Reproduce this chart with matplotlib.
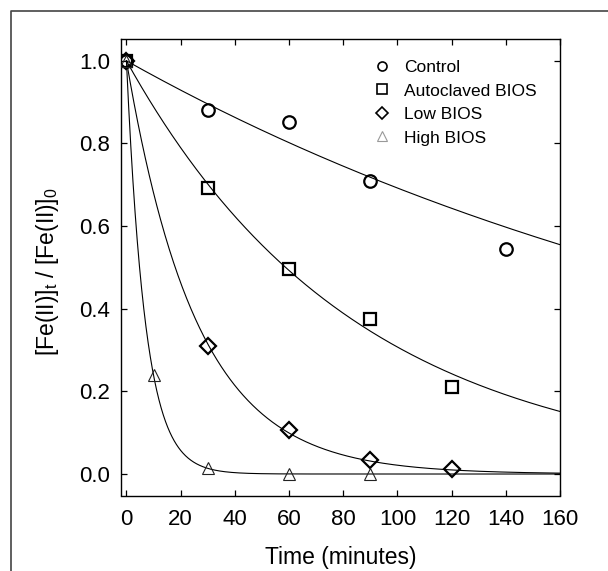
import numpy as np
import matplotlib
matplotlib.use("Agg")
import matplotlib.pyplot as plt
from matplotlib.lines import Line2D

plt.rcParams['font.family'] = ['Liberation Sans', 'DejaVu Sans']
plt.rcParams['mathtext.fontset'] = 'custom'
plt.rcParams['mathtext.rm'] = 'Liberation Sans'
plt.rcParams['mathtext.it'] = 'Liberation Sans'

# ---- data ----
series_names = ["Control", "Autoclaved BIOS", "Low BIOS", "High BIOS"]
control_t = [0, 30, 60, 90, 140]
control_y = [1.0, 0.88, 0.852, 0.71, 0.545]
autoclaved_t = [0, 30, 60, 90, 120]
autoclaved_y = [1.0, 0.693, 0.495, 0.375, 0.21]
low_t = [0, 30, 60, 90, 120]
low_y = [1.0, 0.31, 0.107, 0.033, 0.013]
high_t = [0, 10, 30, 60, 90]
high_y = [1.0, 0.24, 0.015, 0.0, 0.0]
# first-order fit rate constants (1/min)
rate_constants = [0.00368, 0.0118, 0.0385, 0.143]
x_ticks = [0, 20, 40, 60, 80, 100, 120, 140, 160]
y_ticks = [0.0, 0.2, 0.4, 0.6, 0.8, 1.0]

W, H, DPI = 608, 571, 100
fig = plt.figure(figsize=(W / DPI, H / DPI), dpi=DPI)
ax = fig.add_axes([121 / W, 1 - 495.5 / H, (560 - 121) / W, (495.5 - 39.3) / H])

# outer frame (extends past right/bottom edges)
fig.add_artist(Line2D([10.5 / W, 10.5 / W, 1.2], [-0.2, 1 - 11 / H, 1 - 11 / H],
                      transform=fig.transFigure, color='#444444', lw=1.2))

t_fit = np.linspace(0, 160, 800)
for k in rate_constants:
    ax.plot(t_fit, np.exp(-k * t_fit), color='black', lw=0.8, zorder=2)

ax.plot(control_t, control_y, 'o', ms=9, mfc='none', mec='black', mew=1.6, zorder=3)
ax.plot(autoclaved_t, autoclaved_y, 's', ms=8.5, mfc='none', mec='black', mew=1.6, zorder=3)
ax.plot(low_t, low_y, 'D', ms=8.5, mfc='none', mec='black', mew=1.6, zorder=3)
ax.plot(high_t, high_y, '^', ms=9, mfc='none', mec='#222222', mew=0.8, zorder=3)

ax.set_xlim(-2, 160)
ax.set_ylim(-0.052, 1.052)
ax.set_xticks(x_ticks)
ax.set_yticks(y_ticks)
ax.set_yticklabels([f"{v:.1f}" for v in y_ticks])
ax.tick_params(direction='in', length=4, width=0.9, labelsize=16, top=True, right=True)
ax.tick_params(axis='x', pad=10)
ax.tick_params(axis='y', pad=8)
for s in ax.spines.values():
    s.set_linewidth(1.0)

ax.set_xlabel("Time (minutes)", fontsize=16.5, labelpad=11)
ax.set_ylabel(r"[Fe(II)]$_\mathregular{t}$ / [Fe(II)]$_\mathregular{0}$", fontsize=16.5)
ax.yaxis.set_label_coords(-0.137, 0.49)

handles = [
    Line2D([], [], ls='none', marker='o', ms=6.5, mfc='none', mec='black', mew=1.2),
    Line2D([], [], ls='none', marker='s', ms=6.5, mfc='none', mec='black', mew=1.2),
    Line2D([], [], ls='none', marker='D', ms=6, mfc='none', mec='black', mew=1.2),
    Line2D([], [], ls='none', marker='^', ms=6.5, mfc='none', mec='#999999', mew=0.8),
]
ax.legend(handles, series_names, loc='upper left', bbox_to_anchor=(0.56, 0.97),
          frameon=False, fontsize=12.5, handlelength=1.0, handletextpad=0.75,
          labelspacing=0.48, borderaxespad=0)

fig.savefig("out.png", dpi=DPI)
